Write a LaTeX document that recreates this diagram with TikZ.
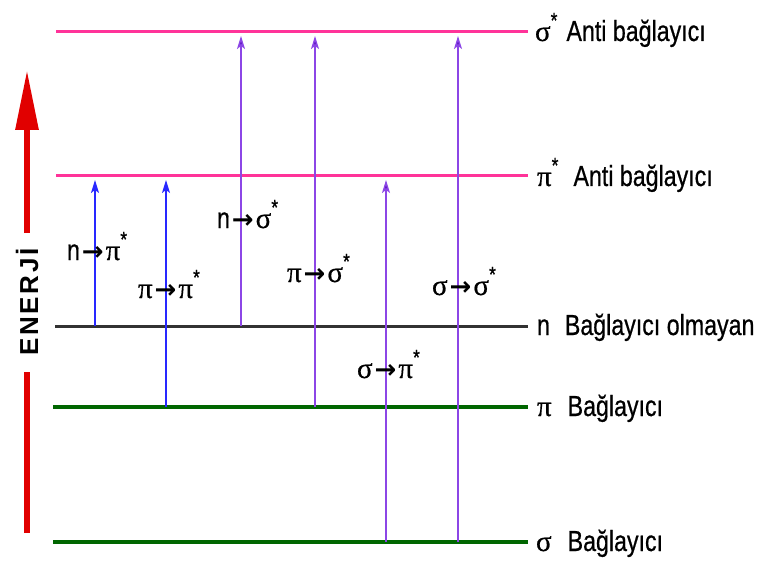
\documentclass[tikz,border=0pt]{standalone}
\usepackage{fontspec}
\setmainfont{Liberation Sans}
\newfontfamily\labfont[FakeStretch=0.8,FakeBold=0.6]{Liberation Sans}
\newfontfamily\grfont[FakeBold=0.6]{Liberation Serif}
\newfontfamily\arrfont{DejaVu Sans}
\newfontfamily\enfont[LetterSpace=10]{Liberation Sans}
\usetikzlibrary{arrows.meta}
\newcommand\gsig{{\grfont\fontsize{29bp}{30bp}\selectfont σ}}
\newcommand\gpi{{\grfont\fontsize{29bp}{30bp}\selectfont π}}
\newcommand\tarr{\hspace{2bp}{\arrfont\bfseries\fontsize{26bp}{28bp}\selectfont →}\hspace{2bp}}
\newcommand\tstar{\raisebox{13bp}{\fontsize{22bp}{22bp}\selectfont *}}
\definecolor{pinkline}{RGB}{255,51,153}
\definecolor{darkline}{RGB}{50,50,50}
\definecolor{greenline}{RGB}{0,102,0}
\definecolor{bluearr}{RGB}{40,40,255}
\definecolor{purparr}{RGB}{140,70,230}
\definecolor{purphead}{RGB}{90,20,190}
\definecolor{enred}{RGB}{225,0,0}
\tikzset{
  every node/.style={inner sep=0pt, outer sep=0pt},
  lab/.style={anchor=base west, font=\labfont\fontsize{29bp}{30bp}\selectfont},
  pinklvl/.style={draw=pinkline, line width=3bp},
  nlvl/.style={draw=darkline, line width=3bp},
  greenlvl/.style={draw=greenline, line width=4bp},
  bluetr/.style={draw=bluearr, line width=1.5bp, -{Stealth[length=13bp,width=8bp,inset=3bp,fill=bluearr]}},
  purptr/.style={draw=purparr, line width=1.5bp, -{Stealth[length=13bp,width=8bp,inset=3bp,fill=purphead]}},
  enarrow/.style={draw=enred, line width=6bp},
}
\begin{document}
\begin{tikzpicture}[x=1bp,y=-1bp]
\useasboundingbox (0,0) rectangle (757,566);
% levels
\coordinate (ss0) at (56,32);  \coordinate (ss1) at (528,32);
\coordinate (ps0) at (56,176); \coordinate (ps1) at (528,176);
\coordinate (n0) at (55,326);  \coordinate (n1) at (528,326);
\coordinate (p0) at (53,407);  \coordinate (p1) at (528,407);
\coordinate (s0) at (53,542);  \coordinate (s1) at (528,542);
\draw[pinklvl] (ss0) -- (ss1);
\draw[pinklvl] (ps0) -- (ps1);
\draw[nlvl] (n0) -- (n1);
\draw[greenlvl] (p0) -- (p1);
\draw[greenlvl] (s0) -- (s1);
% level labels
\node[lab] (lss) at (535,41) {\gsig\tstar\hspace{9bp}Anti bağlayıcı};
\node[lab] (lps) at (537,186) {\gpi\tstar\hspace{15bp}Anti bağlayıcı};
\node[lab] (ln) at (537,335) {n\hspace{15bp}Bağlayıcı olmayan};
\node[lab] (lp) at (537,416) {\gpi\hspace{16bp}Bağlayıcı};
\node[lab] (ls) at (536,551) {\gsig\hspace{16bp}Bağlayıcı};
% transition endpoints
\coordinate (a1b) at (95,326);  \coordinate (a1t) at (95,180);
\coordinate (a2b) at (166,407); \coordinate (a2t) at (166,180);
\coordinate (a3b) at (241,326); \coordinate (a3t) at (241,36);
\coordinate (a4b) at (315,407); \coordinate (a4t) at (315,36);
\coordinate (a5b) at (386,542); \coordinate (a5t) at (386,180);
\coordinate (a6b) at (458,542); \coordinate (a6t) at (458,36);
\draw[bluetr] (a1b) -- (a1t);
\draw[bluetr] (a2b) -- (a2t);
\draw[purptr] (a3b) -- (a3t);
\draw[purptr] (a4b) -- (a4t);
\draw[purptr] (a5b) -- (a5t);
\draw[purptr] (a6b) -- (a6t);
% transition labels
\node[lab] (t1) at (67,260) {n\tarr\gpi\tstar};
\node[lab] (t2) at (138,298) {\gpi\tarr\gpi\tstar};
\node[lab] (t3) at (217,228) {n\tarr\gsig\tstar};
\node[lab] (t4) at (287,282) {\gpi\tarr\gsig\tstar};
\node[lab] (t5) at (432,295) {\gsig\tarr\gsig\tstar};
\node[lab] (t6) at (357,378) {\gsig\tarr\gpi\tstar};
% energy axis
\node[rotate=90, font=\enfont\bfseries\fontsize{26bp}{27bp}\selectfont] (en) at (27,302) {ENERJİ};
\coordinate (e0) at (27,533);
\coordinate (e1) at (27,372);
\coordinate (e2) at (27,233);
\coordinate (e3) at (27,70);
\draw[enarrow] (e0) -- (e1);
\draw[enarrow, -{Triangle[length=60bp,width=22bp,fill=enred]}] (e2) -- (e3);
\end{tikzpicture}
\end{document}
